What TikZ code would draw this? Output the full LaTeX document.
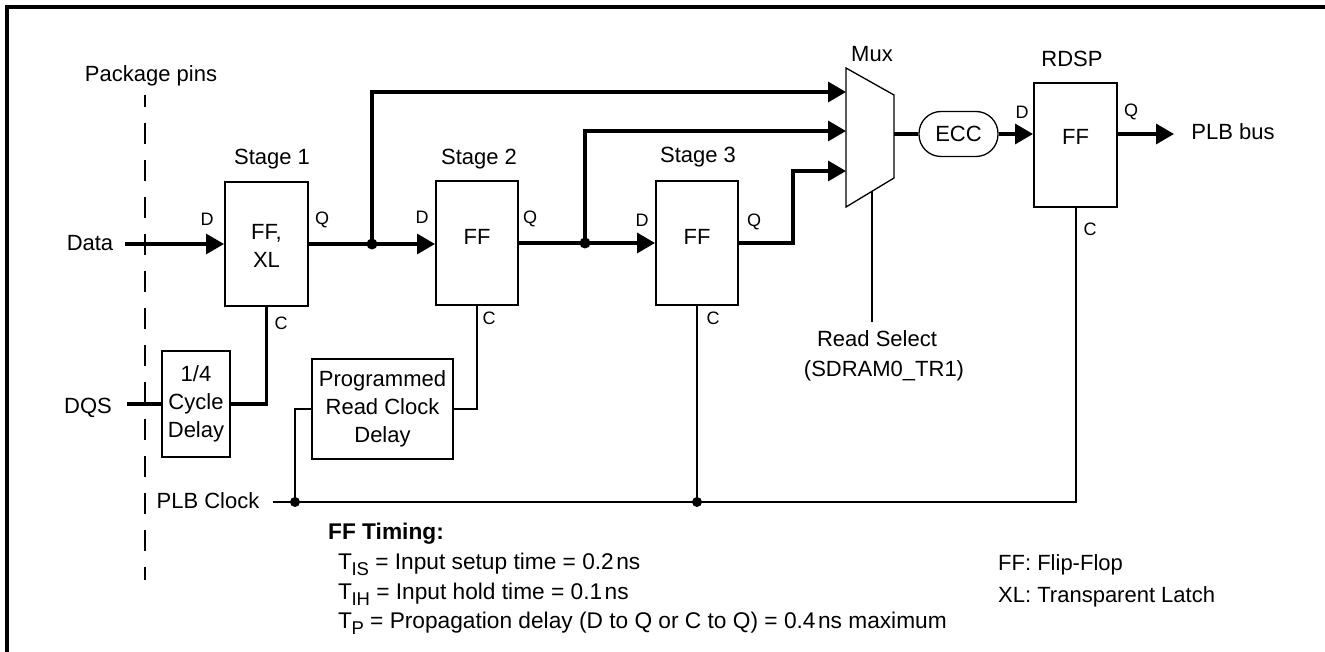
\documentclass[tikz,border=0pt]{standalone}
\usepackage{fontspec}
\setmainfont{Liberation Sans}
\usetikzlibrary{arrows.meta,calc}
\newcommand{\subtx}[1]{\kern-0.5pt\raisebox{-6pt}{\fontsize{18.5}{18}\selectfont #1}}
\begin{document}
\begin{tikzpicture}[x=1pt,y=-1pt,
  txt/.style={font=\fontsize{22}{28}\selectfont, inner sep=0pt, anchor=base},
  tim/.style={font=\fontsize{22.7}{28}\selectfont, inner sep=0pt, anchor=base west},
  pin/.style={font=\fontsize{18}{20}\selectfont, inner sep=0pt, anchor=base},
  blk/.style={draw, line width=2pt, inner sep=0pt, align=center, font=\fontsize{22}{28}\selectfont},
  bus/.style={line width=3.4pt},
  sig/.style={line width=2pt},
  arr/.style={-{Triangle[length=18pt,width=20pt]}},
  dot/.style={circle, fill, inner sep=0pt, minimum size=11pt},
  frame/.style={line width=3.8pt}
]
\useasboundingbox (0,0) rectangle (1325,652);
% frame
\coordinate (fa) at (7,652); \coordinate (fb) at (7,7); \coordinate (fc) at (1325,7);
\draw[frame] (fa) -- (fb) -- (fc);

% package pins
\node[txt] (pkg) at (151,82) {Package pins};
\coordinate (pt) at (145,95); \coordinate (pb) at (145,580);
\draw[line width=1.6pt, dash pattern=on 21pt off 16pt, dash phase=9pt] (pt) -- (pb);

% stage boxes
\node[blk, minimum width=83pt, minimum height=124pt] (s1) at (266.5,244) {\rule{0pt}{19pt}FF,\\XL};
\node[blk, minimum width=82pt, minimum height=124pt, text depth=12pt] (s2) at (477,243) {FF};
\node[blk, minimum width=82pt, minimum height=124pt, text depth=12pt] (s3) at (697,243) {FF};
\node[blk, minimum width=83pt, minimum height=124pt, text depth=16pt] (rdsp) at (1075.5,145) {FF};
\node[txt] (st1) at (272,165) {Stage 1};
\node[txt] (st2) at (479,165) {Stage 2};
\node[txt] (st3) at (698,163) {Stage 3};
\node[txt] (rdspl) at (1072,67) {RDSP};
\node[txt] (muxl) at (872,62) {Mux};

% pin labels
\node[pin] (s1d) at (207,226) {D};
\node[pin] (s1q) at (322,225) {Q};
\node[pin] (s1c) at (281,329) {C};
\node[pin] (s2d) at (422,224) {D};
\node[pin] (s2q) at (530,224) {Q};
\node[pin] (s2c) at (489,324) {C};
\node[pin] (s3d) at (642,227) {D};
\node[pin] (s3q) at (754,227) {Q};
\node[pin] (s3c) at (713,324) {C};
\node[pin] (rd) at (1022,119) {D};
\node[pin] (rq) at (1131,117) {Q};
\node[pin] (rc) at (1090,236) {C};

% delay boxes
\node[blk, minimum width=68pt, minimum height=106pt] (dly) at (196,404) {1/4\\Cycle\\Delay};
\node[blk, minimum width=141pt, minimum height=100pt] (prog) at (382.5,409) {Programmed\\Read Clock\\Delay};

% input labels
\node[txt] (data) at (90,251) {Data};
\node[txt] (dqs) at (88,413) {DQS};
\node[txt] (plbc) at (208,508) {PLB Clock};
\coordinate (datain) at (125,244);
\coordinate (dqsin) at (127,404);
\coordinate (clk) at (273,502);

% mux
\coordinate (mA) at (846,68); \coordinate (mB) at (894,95);
\coordinate (mC) at (894,178); \coordinate (mD) at (846,207);
\draw[line width=1.3pt] (mA) -- (mB) -- (mC) -- (mD) -- cycle;
\coordinate (m1) at (846,92); \coordinate (m2) at (846,131); \coordinate (m3) at (846,171);
\coordinate (mo) at (894,134); \coordinate (ms) at (872,191); \coordinate (mse) at (872,322);

% ECC
\node[draw, line width=1.3pt, rounded corners=22pt, minimum width=79pt, minimum height=45pt, inner sep=0pt, font=\fontsize{22}{28}\selectfont] (ecc) at (958.5,134) {ECC};

% read select
\node[txt] (rs1) at (877,346) {Read Select};
\node[txt] (rs2) at (884,376) {(SDRAM0\_TR1)};

% PLB bus
\coordinate (pbus) at (1174,134);
\node[txt] (pbt) at (1233,140) {PLB bus};

% junctions
\coordinate (j1) at (372,244);
\coordinate (j2) at (585,243);
\coordinate (k3) at (793,171);
\coordinate (jc1) at (295,502);
\coordinate (jc2) at (697,502);

% data path
\draw[bus,arr] (datain) -- (s1.west);
\draw[bus,arr] (s1.east) -- (s1.east -| s2.west);
\draw[bus,arr] (j1) |- (m1);
\draw[bus,arr] (s2.east) -- (s3.west);
\draw[bus,arr] (j2) |- (m2);
\draw[bus,arr] (s3.east) -| (k3) -- (m3);
\draw[bus] (mo) -- (ecc.west);
\draw[bus,arr] (ecc.east) -- (ecc.east -| rdsp.west);
\draw[bus,arr] (ecc.east -| rdsp.east) -- (pbus);

% clocks
\draw[bus] (dqsin) -- (dly.west);
\draw[bus] (dly.east) -| (s1.south);
\draw[sig] (clk) -| (rdsp.south);
\draw[sig] (jc1) |- (prog.west);
\draw[sig] (prog.east) -| (s2.south);
\draw[sig] (s3.south) -- (jc2);
\draw[sig] (ms) -- (mse);

\node[dot] (d1) at (j1) {};
\node[dot] (d2) at (j2) {};
\node[dot, minimum size=10pt] (d3) at (jc1) {};
\node[dot, minimum size=10pt] (d4) at (jc2) {};

% timing text
\node[tim, font=\fontsize{22.7}{28}\selectfont\bfseries] (tt) at (328,539) {FF Timing:};
\node[tim] (t1) at (338,569) {T\subtx{IS} = Input setup time = 0.2\kern2.5pt ns};
\node[tim] (t2) at (338,599) {T\subtx{IH} = Input hold time = 0.1\kern2.5pt ns};
\node[tim] (t3) at (338,628) {T\subtx{P} = Propagation delay (D to Q or C to Q) = 0.4\kern2.5pt ns maximum};

% legend
\node[txt, anchor=base west] (lg1) at (998,570) {FF: Flip-Flop};
\node[txt, anchor=base west] (lg2) at (998,602) {XL: Transparent Latch};
\end{tikzpicture}
\end{document}
